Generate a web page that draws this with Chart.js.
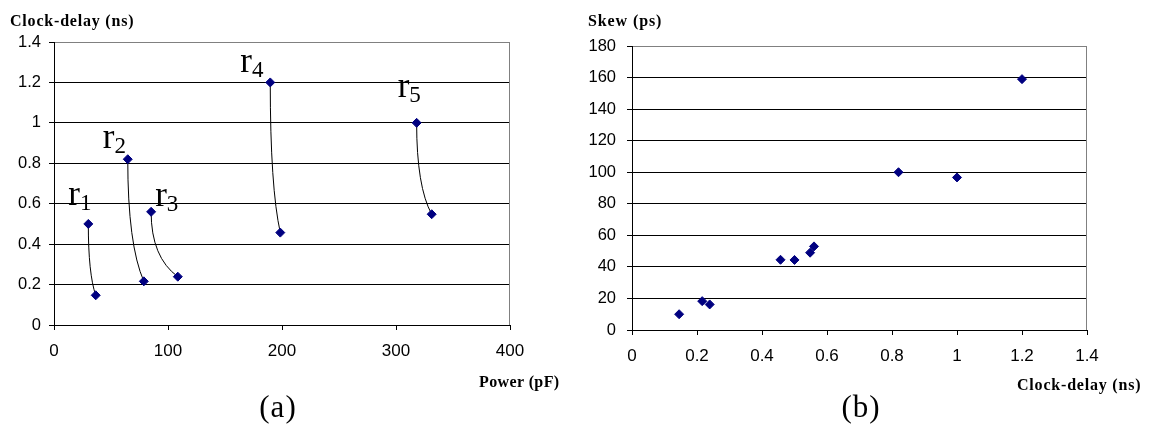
<!DOCTYPE html>
<html><head><meta charset="utf-8">
<script src="https://cdn.jsdelivr.net/npm/chart.js@4/dist/chart.umd.min.js"></script>
<style>
html,body{margin:0;padding:0;background:#fff;}
body{width:1149px;height:428px;overflow:hidden;position:relative;}
canvas{position:absolute;top:0;}
.t{position:absolute;white-space:nowrap;color:#000;line-height:1;top:0;left:0;}
.ttl{font-family:"Liberation Serif","Times New Roman",serif;font-weight:bold;font-size:16px;}
.cap{font-family:"Liberation Serif","Times New Roman",serif;font-size:31px;letter-spacing:1px;}
.rl{font-family:"Liberation Serif","Times New Roman",serif;font-size:35px;}
.rl .s{font-size:23px;position:relative;top:5px;}
.bm{display:inline-block;width:0;height:0;vertical-align:baseline;}
</style></head><body>
<canvas id="ca" width="575" height="428" style="left:0px"></canvas>
<canvas id="cb" width="569" height="428" style="left:580px"></canvas>
<script>
// ---------- data ----------
const routeNames = ['1', '2', '3', '4', '5'];
const powerStart = [30.1, 64.7, 85.2, 189.7, 318.1];
const delayStart = [0.5, 0.82, 0.56, 1.2, 1.0];
const powerEnd   = [36.6, 78.8, 108.6, 198.5, 331.3];
const delayEnd   = [0.147, 0.216, 0.239, 0.457, 0.548];

const clockDelay = [0.145, 0.216, 0.239, 0.457, 0.5, 0.548, 0.56, 0.82, 1.0, 1.2];
const skew       = [10, 18.3, 16.2, 44.5, 44.4, 49, 53, 100, 96.7, 159];

const powerTicks = [0, 100, 200, 300, 400];
const delayTicks = [0, 0.2, 0.4, 0.6, 0.8, 1, 1.2, 1.4];
const skewTicks  = [0, 20, 40, 60, 80, 100, 120, 140, 160, 180];

const titleA_y = 'Clock-delay (ns)';
const titleA_x = 'Power (pF)';
const titleB_y = 'Skew (ps)';
const titleB_x = 'Clock-delay (ns)';
const captionA = '(a)';
const captionB = '(b)';

// ---------- styles / placement ----------
const NAVY = '#000080';
const labelOffsets = [[-20, -19], [-25, -11], [4, -5.5], [-30, -10.7], [-19, -25.6]];

function placeText(el, left, baseline, center) {
  el.style.left = '0px'; el.style.top = '0px';
  const m = el.querySelector('.bm');
  const b = m.getBoundingClientRect().bottom;
  const w = el.getBoundingClientRect().width;
  el.style.left = (center ? left - w / 2 : left) + 'px';
  el.style.top = (baseline - b) + 'px';
}
function addText(cls, html, left, baseline, center, spacing) {
  const el = document.createElement('div');
  el.className = 't ' + cls;
  el.innerHTML = html;
  if (spacing) el.style.letterSpacing = spacing;
  document.body.appendChild(el);
  placeText(el, left, baseline, center);
  return el;
}
function esc(s){return s.replace(/&/g,'&amp;').replace(/</g,'&lt;');}

function scaleOpts(ticksArr, min, max, isX, fit, pad) {
  return {
    type: 'linear', min: min, max: max,
    afterBuildTicks: s => { s.ticks = ticksArr.map(v => ({ value: v })); },
    afterFit: s => { if (isX) s.height = fit; else s.width = fit; },
    ticks: {
      font: { family: '"Liberation Sans", Arial, sans-serif', size: isX ? 17 : 16.5 },
      color: '#000', padding: pad, maxRotation: 0, autoSkip: false,
      callback: v => String(v)
    },
    grid: isX
      ? { drawOnChartArea: false, tickLength: 5, color: '#000', tickColor: '#000' }
      : { tickLength: 5, tickColor: '#000', color: c => (c.tick && c.tick.value === max ? '#808080' : '#000') },
    border: { color: '#000', width: 1 }
  };
}

const frame = {
  id: 'frame',
  beforeDatasetsDraw(chart) {
    const a = chart.chartArea, ctx = chart.ctx;
    ctx.save();
    ctx.strokeStyle = '#808080'; ctx.lineWidth = 1;
    const xr = Math.round(a.right) - 0.5;
    ctx.beginPath(); ctx.moveTo(xr, Math.round(a.top)); ctx.lineTo(xr, Math.round(a.bottom)); ctx.stroke();
    ctx.restore();
  }
};

const connectors = {
  id: 'connectors',
  beforeDatasetsDraw(chart) {
    const { ctx } = chart; const x = chart.scales.x, y = chart.scales.y;
    ctx.save(); ctx.strokeStyle = '#000'; ctx.lineWidth = 1;
    for (let i = 0; i < powerStart.length; i++) {
      const x0 = x.getPixelForValue(powerStart[i]), y0 = y.getPixelForValue(delayStart[i]);
      const x1 = x.getPixelForValue(powerEnd[i]),   y1 = y.getPixelForValue(delayEnd[i]);
      ctx.beginPath(); ctx.moveTo(x0, y0);
      ctx.quadraticCurveTo(x0, y0 + 0.7 * (y1 - y0), x1, y1);
      ctx.stroke();
    }
    ctx.restore();
  }
};

function pointDs(data) {
  return {
    data: data, showLine: false, pointStyle: 'rectRot', pointRadius: 4.5,
    pointBackgroundColor: NAVY, pointBorderColor: NAVY, pointBorderWidth: 1
  };
}

const ptsA = [];
for (let i = 0; i < powerStart.length; i++) {
  ptsA.push({ x: powerStart[i], y: delayStart[i] });
  ptsA.push({ x: powerEnd[i], y: delayEnd[i] });
}
const ptsB = clockDelay.map((d, i) => ({ x: d, y: skew[i] }));

function baseOpts(xs, ys, padding) {
  return {
    responsive: false, animation: false, events: [],
    layout: { padding: padding },
    plugins: { legend: { display: false }, tooltip: { enabled: false } },
    scales: { x: xs, y: ys }
  };
}

const chartA = new Chart(document.getElementById('ca'), {
  type: 'scatter',
  data: { datasets: [pointDs(ptsA)] },
  options: baseOpts(
    scaleOpts(powerTicks, 0, 400, true, 40, 11),
    scaleOpts(delayTicks, 0, 1.4, false, 54, 8),
    { left: 0, top: 42, right: 65, bottom: 63 }),
  plugins: [frame, connectors]
});

const chartB = new Chart(document.getElementById('cb'), {
  type: 'scatter',
  data: { datasets: [pointDs(ptsB)] },
  options: baseOpts(
    scaleOpts(delayTicks, 0, 1.4, true, 40, 11),
    scaleOpts(skewTicks, 0, 180, false, 52, 11),
    { left: 0, top: 46, right: 62, bottom: 58 }),
  plugins: [frame]
});

// ---------- texts ----------
addText('ttl', esc(titleA_y) + '<span class="bm"></span>', 10, 26, false, '0.8px');
addText('ttl', esc(titleA_x) + '<span class="bm"></span>', 479, 387, false, '0.4px');
addText('ttl', esc(titleB_y) + '<span class="bm"></span>', 588, 26, false, '0.9px');
addText('ttl', esc(titleB_x) + '<span class="bm"></span>', 1017, 390, false, '0.8px');
addText('cap', esc(captionA) + '<span class="bm"></span>', 278, 417, true);
addText('cap', esc(captionB) + '<span class="bm"></span>', 861, 417, true);

const xs = chartA.scales.x, ys = chartA.scales.y;
for (let i = 0; i < routeNames.length; i++) {
  const px = xs.getPixelForValue(powerStart[i]);
  const py = ys.getPixelForValue(delayStart[i]);
  addText('rl', 'r<span class="bm"></span><span class="s">' + routeNames[i] + '</span>',
    px + labelOffsets[i][0], py + labelOffsets[i][1]);
}
</script>
</body></html>
